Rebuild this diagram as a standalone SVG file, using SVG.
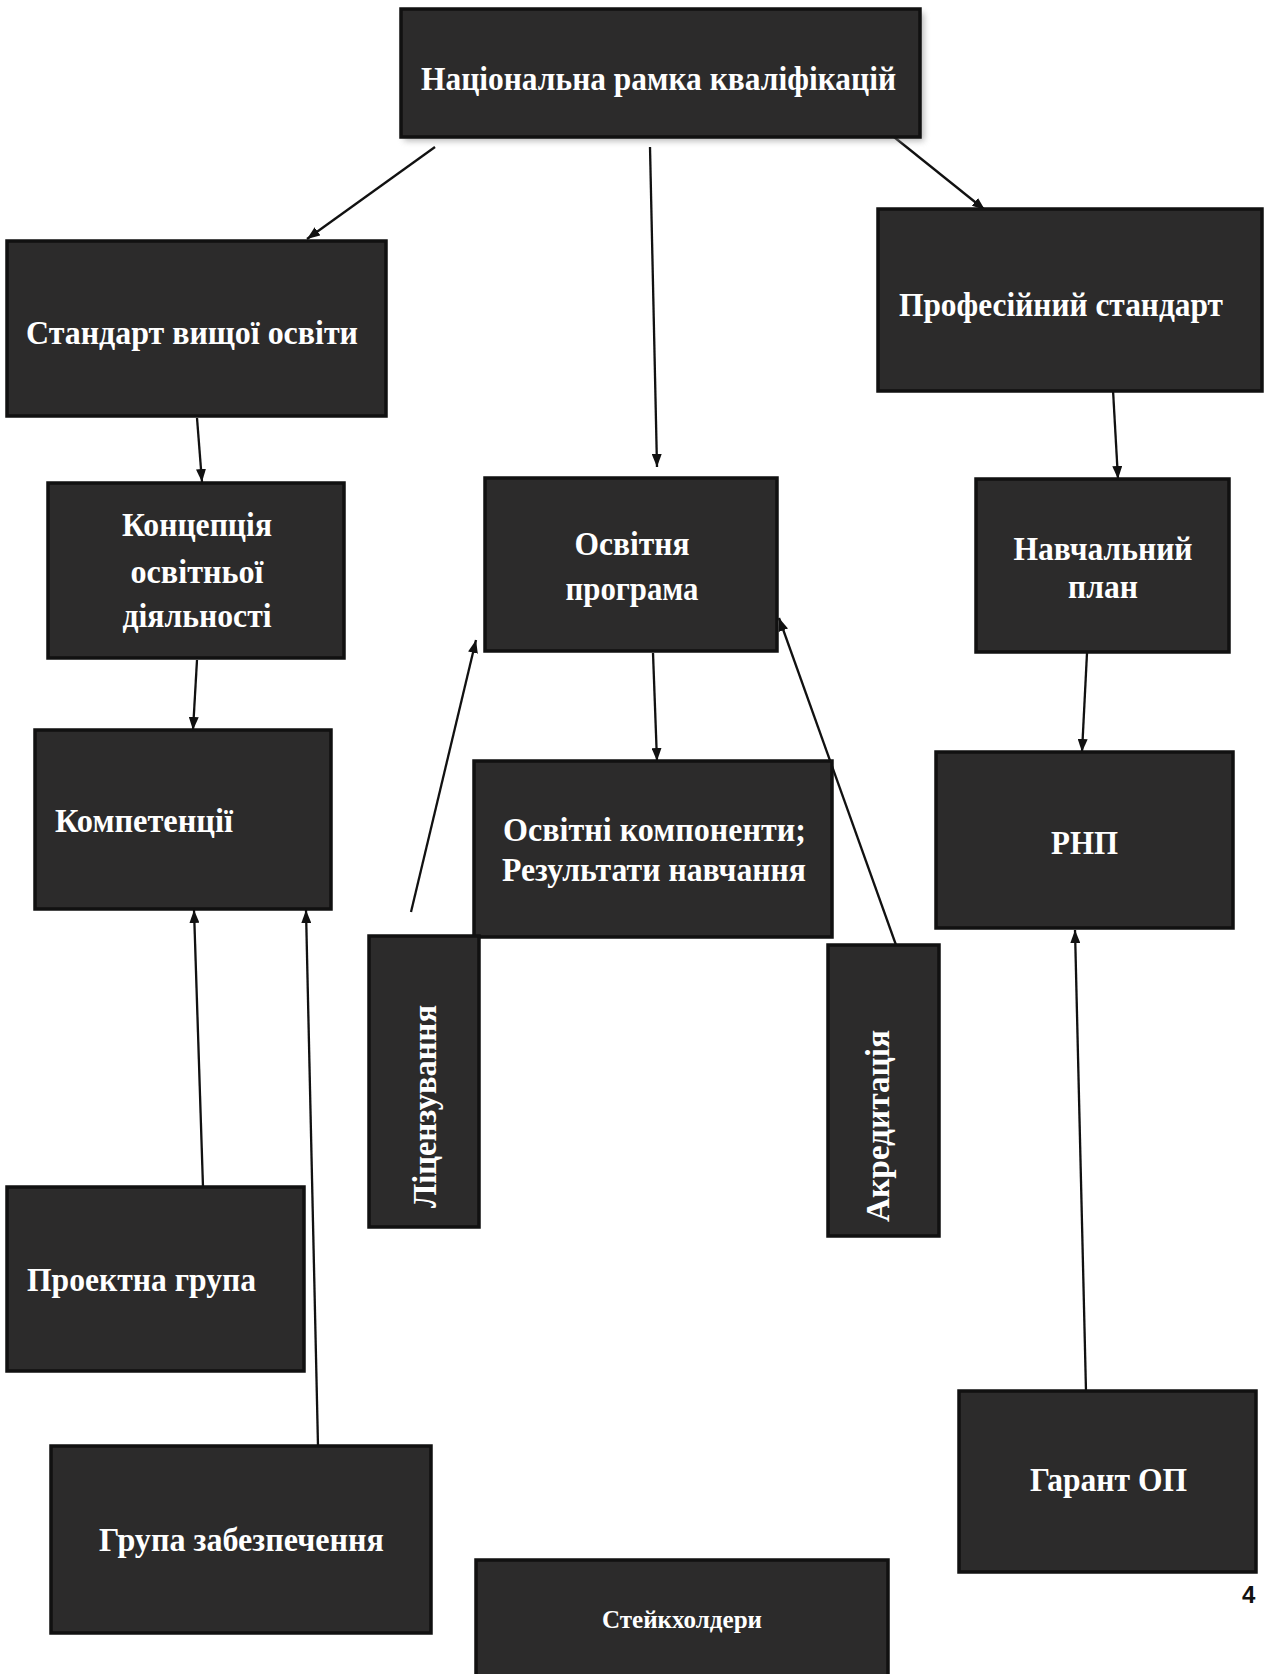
<svg xmlns="http://www.w3.org/2000/svg" width="1271" height="1674" viewBox="0 0 1271 1674">
<defs>
<style>
.box{fill:#2c2b2b;stroke:#111;stroke-width:3.5}
.t{font-family:"Liberation Serif","Times New Roman",serif;font-weight:bold;font-size:34px;fill:#fff}
.c{text-anchor:middle}
.ln{stroke:#111;stroke-width:2.3;fill:none;marker-end:url(#arr)}
</style>
<marker id="arr" markerWidth="13" markerHeight="10" refX="13" refY="5" orient="auto" markerUnits="userSpaceOnUse">
<path d="M0,0 L13,5 L0,10 z" fill="#111"/>
</marker>
<filter id="sh" x="-5%" y="-10%" width="115%" height="130%">
<feGaussianBlur stdDeviation="3"/>
</filter>
</defs>
<rect width="1271" height="1674" fill="#fff"/>

<g id="connectors">
<line class="ln" x1="435" y1="147" x2="307" y2="239"/>
<line class="ln" x1="650" y1="147" x2="657" y2="467"/>
<line class="ln" x1="894" y1="137" x2="985" y2="210"/>
<line class="ln" x1="197" y1="418" x2="202" y2="482"/>
<line class="ln" x1="197" y1="660" x2="193" y2="730"/>
<line class="ln" x1="203" y1="1187" x2="194" y2="910"/>
<line class="ln" x1="318" y1="1446" x2="306" y2="910"/>
<line class="ln" x1="411" y1="912" x2="476" y2="640"/>
<line class="ln" x1="896" y1="945" x2="779" y2="618"/>
<line class="ln" x1="653" y1="653" x2="657" y2="761"/>
<line class="ln" x1="1113" y1="390" x2="1118" y2="479"/>
<line class="ln" x1="1087" y1="653" x2="1082" y2="752"/>
<line class="ln" x1="1086" y1="1391" x2="1075" y2="930"/>
</g>

<g id="nrk">
<rect x="404" y="13" width="520" height="128" fill="#888" opacity="0.6" filter="url(#sh)"/>
<rect class="box" x="401" y="9" width="519" height="128"/>
<text class="t" x="421" y="90" textLength="475" lengthAdjust="spacingAndGlyphs">Національна рамка кваліфікацій</text>
</g>

<g id="standard">
<rect class="box" x="7" y="241" width="379" height="175"/>
<text class="t" x="26" y="344" textLength="332" lengthAdjust="spacingAndGlyphs">Стандарт вищої освіти</text>
</g>

<g id="profstandard">
<rect class="box" x="878" y="209" width="384" height="182"/>
<text class="t" x="899" y="316" textLength="324" lengthAdjust="spacingAndGlyphs">Професійний стандарт</text>
</g>

<g id="concept">
<rect class="box" x="48" y="483" width="296" height="175"/>
<text class="t c" x="197" y="536" textLength="150" lengthAdjust="spacingAndGlyphs">Концепція</text>
<text class="t c" x="197" y="583" textLength="133" lengthAdjust="spacingAndGlyphs">освітньої</text>
<text class="t c" x="197" y="627" textLength="149" lengthAdjust="spacingAndGlyphs">діяльності</text>
</g>

<g id="op">
<rect class="box" x="485" y="478" width="292" height="173"/>
<text class="t c" x="632" y="555" textLength="115" lengthAdjust="spacingAndGlyphs">Освітня</text>
<text class="t c" x="632" y="600" textLength="133" lengthAdjust="spacingAndGlyphs">програма</text>
</g>

<g id="plan">
<rect class="box" x="976" y="479" width="253" height="173"/>
<text class="t c" x="1103" y="560" textLength="179" lengthAdjust="spacingAndGlyphs">Навчальний</text>
<text class="t c" x="1103" y="598" textLength="70" lengthAdjust="spacingAndGlyphs">план</text>
</g>

<g id="competences">
<rect class="box" x="35" y="730" width="296" height="179"/>
<text class="t" x="55" y="832" textLength="178" lengthAdjust="spacingAndGlyphs">Компетенції</text>
</g>

<g id="components">
<rect class="box" x="474" y="761" width="358" height="176"/>
<text class="t" x="503" y="841" textLength="303" lengthAdjust="spacingAndGlyphs">Освітні компоненти;</text>
<text class="t" x="502" y="881" textLength="304" lengthAdjust="spacingAndGlyphs">Результати навчання</text>
</g>

<g id="rnp">
<rect class="box" x="936" y="752" width="297" height="176"/>
<text class="t" x="1051" y="854" textLength="67" lengthAdjust="spacingAndGlyphs">РНП</text>
</g>

<g id="licensing">
<rect class="box" x="369" y="936" width="110" height="291"/>
<text class="t" transform="translate(436,1208) rotate(-90)" x="0" y="0" textLength="203" lengthAdjust="spacingAndGlyphs">Ліцензування</text>
</g>

<g id="accreditation">
<rect class="box" x="828" y="945" width="111" height="291"/>
<text class="t" transform="translate(889,1222) rotate(-90)" x="0" y="0" textLength="192" lengthAdjust="spacingAndGlyphs">Акредитація</text>
</g>

<g id="projectgroup">
<rect class="box" x="7" y="1187" width="297" height="184"/>
<text class="t" x="27" y="1291" textLength="229" lengthAdjust="spacingAndGlyphs">Проектна група</text>
</g>

<g id="supportgroup">
<rect class="box" x="51" y="1446" width="380" height="187"/>
<text class="t" x="99" y="1551" textLength="285" lengthAdjust="spacingAndGlyphs">Група забезпечення</text>
</g>

<g id="guarantor">
<rect class="box" x="959" y="1391" width="297" height="181"/>
<text class="t" x="1030" y="1491" textLength="157" lengthAdjust="spacingAndGlyphs">Гарант ОП</text>
</g>

<g id="stakeholders">
<rect class="box" x="476" y="1560" width="412" height="120"/>
<text class="t" x="602" y="1628" textLength="160" lengthAdjust="spacingAndGlyphs" style="font-size:25px">Стейкхолдери</text>
</g>

<text x="1242" y="1603" font-family="Liberation Sans, Arial, sans-serif" font-weight="bold" font-size="24" fill="#111">4</text>
</svg>
